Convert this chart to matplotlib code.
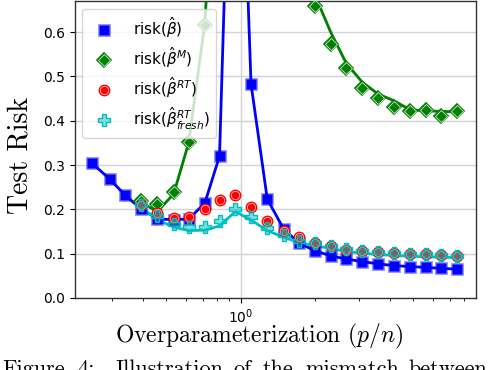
import numpy as np
import matplotlib
matplotlib.use('Agg')
import matplotlib.pyplot as plt

# p/n grid (log spaced)
ratio = [0.25, 0.295, 0.34, 0.395, 0.46, 0.535, 0.615, 0.715, 0.82, 0.95, 1.10, 1.28,
         1.49, 1.72, 1.99, 2.31, 2.67, 3.1, 3.6, 4.17, 4.83, 5.6, 6.48, 7.5]

# risk(beta_hat), full grid
risk_ols = [0.304, 0.268, 0.232, 0.201, 0.178, 0.177, 0.178, 0.214, 0.32, 1.5, 0.483, 0.223,
            0.156, 0.124, 0.107, 0.095, 0.088, 0.082, 0.077, 0.073, 0.071, 0.069, 0.067, 0.065]

# the other ones start at the 4th grid point
risk_M = [0.219, 0.2115, 0.24, 0.353, 0.616, 1.15, 2.0, 1.8, 1.2, 0.95, 0.80, 0.659,
          0.573, 0.518, 0.473, 0.452, 0.430, 0.422, 0.424, 0.411, 0.422]
risk_M_th = [0.215, 0.195, 0.235, 0.35, 0.62, 1.16, 2.0, 1.8, 1.2, 0.95, 0.80, 0.685,
             0.60, 0.53, 0.487, 0.46, 0.445, 0.425, 0.422, 0.421, 0.42]
risk_RT = [0.21, 0.191, 0.18, 0.1835, 0.20, 0.22, 0.232, 0.206, 0.1745, 0.152, 0.138,
           0.1235, 0.1175, 0.109, 0.107, 0.1045, 0.102, 0.099, 0.0985, 0.0965, 0.095]
risk_fresh = [0.21, 0.185, 0.168, 0.1595, 0.16, 0.1745, 0.201, 0.1835, 0.157, 0.142, 0.129,
              0.1235, 0.1175, 0.111, 0.107, 0.1045, 0.102, 0.099, 0.0985, 0.0965, 0.095]
risk_fresh_th = [0.205, 0.176, 0.16, 0.152, 0.153, 0.1625, 0.195, 0.176, 0.152, 0.137, 0.125,
                 0.118, 0.112, 0.105, 0.101, 0.098, 0.096, 0.094, 0.093, 0.092, 0.091]

labels = [r'risk($\hat{\beta}$)', r'risk($\hat{\beta}^{M}$)',
          r'risk($\hat{\beta}^{RT}$)', r'risk($\hat{\beta}^{RT}_{fresh}$)']

caption_words = ['Figure', '4:', 'Illustration', 'of', 'the', 'mismatch', 'between']
caption_x = [2, 77, 115, 233, 263, 305, 408]  # px, caption is justified in the paper

x = np.array(ratio)
x2 = x[3:]

plt.rcParams['mathtext.fontset'] = 'dejavusans'
fig = plt.figure(figsize=(4.96, 3.70), dpi=100)
ax = fig.add_axes([0.151, 0.1946, 0.809, 0.8027])

ax.grid(True, which='major', color='#d3d3d3', lw=1.0, zorder=0)

# theory lines
ax.plot(x, risk_ols, '-', color='b', lw=2, zorder=2)
ax.plot(x2, risk_M_th, '-', color='g', lw=2, zorder=2)
ax.plot(x2, risk_fresh_th, '-', color='c', lw=2, zorder=2)

# markers
b0, = ax.plot(x, risk_ols, 's', ms=6.5, mfc='b', mec=(0, 0, 1, 0.45), mew=2.0, zorder=3)
g0, = ax.plot(x2, risk_M, 'D', ms=7.5, mfc='g', mec='g', mew=1.2, zorder=3)
g1, = ax.plot(x2, risk_M, 'D', ms=6, mfc='g', mec=(1, 1, 1, 0.8), mew=0.6, zorder=3)
r0, = ax.plot(x2, risk_RT, 'o', ms=7.5, mfc='r', mec='r', mew=1.0, zorder=4)
r1, = ax.plot(x2, risk_RT, 'o', ms=6, mfc='r', mec=(1, 1, 1, 0.7), mew=0.6, zorder=4)
c0, = ax.plot(x2, risk_fresh, 'P', ms=8, mfc=(0, 0.75, 0.75, 0.5), mec='c', mew=1.0,
              zorder=5)

ax.set_xscale('log')
ax.set_xlim(0.213, 8.97)
ax.set_ylim(0, 0.67)
ax.set_yticks([0.0, 0.1, 0.2, 0.3, 0.4, 0.5, 0.6])
ax.tick_params(labelsize=10, colors='black')
for s in ax.spines.values():
    s.set_color('#333333')
    s.set_linewidth(1.0)

ax.set_ylabel('Test Risk', family='cmr10', fontsize=20)
ax.set_xlabel(r'Overparameterization $(p/n)$', family='cmr10', fontsize=17,
              math_fontfamily='cm')
ax.yaxis.set_label_coords(-0.103, 0.48)
ax.xaxis.set_label_coords(0.46, -0.15)
ax.xaxis.label.set_va('baseline')

leg = ax.legend([b0, (g0, g1), (r0, r1), c0], labels, loc='upper left',
                bbox_to_anchor=(0.018, 0.972), borderaxespad=0, fontsize=11,
                handlelength=2.1, handletextpad=0.8, labelspacing=0.33,
                borderpad=0.4, framealpha=0.8, edgecolor='#cccccc', numpoints=1)

for w, px in zip(caption_words, caption_x):
    fig.text(px / 496, -0.014, w, family='cmr10', fontsize=16, va='baseline')

fig.savefig('out.png', dpi=100)
